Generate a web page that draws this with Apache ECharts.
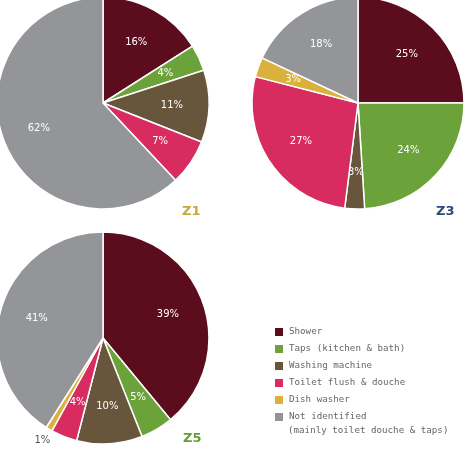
<!DOCTYPE html>
<html>
<head>
<meta charset="utf-8">
<script src="https://cdn.jsdelivr.net/npm/echarts@6/dist/echarts.min.js"></script>
<style>
  html, body { margin: 0; padding: 0; background: #fff; }
  #container { width: 465px; height: 451px; }
</style>
</head>
<body>
<div id="container"></div>
<script>
var myChart = echarts.init(document.getElementById('container'));

var categories = ['Shower', 'Taps (kitchen & bath)', 'Washing machine', 'Toilet flush & douche', 'Dish washer', 'Not identified'];
var colors = ['#5c0d1d', '#6ba23a', '#67563b', '#d82b60', '#d9b13c', '#939598'];
var z1Values = [16, 4, 11, 7, 0, 62];
var z3Values = [25, 24, 3, 27, 3, 18];
var z5Values = [39, 5, 10, 4, 1, 41];
var legendNote = '(mainly toilet douche & taps)';

var zones = [
  { name: 'Z1', values: z1Values, center: [103, 103], labelPos: [182, 205], color: '#c9a733' },
  { name: 'Z3', values: z3Values, center: [358, 103], labelPos: [436, 205], color: '#2c4a7b' },
  { name: 'Z5', values: z5Values, center: [103, 338], labelPos: [183, 432], color: '#6a9b3a' }
];

// mode: 'slice' coloured slices, 'inner' labels inside, 'outer' labels for tiny slices
function buildData(values, mode) {
  var data = [];
  values.forEach(function(v, i) {
    if (v === 0) return;
    var item = { name: categories[i], value: v, itemStyle: { color: mode === 'slice' ? colors[i] : 'rgba(0,0,0,0)' } };
    if (mode === 'inner' && v <= 1) item.label = { show: false };
    if (mode === 'outer' && v > 1) item.label = { show: false };
    data.push(item);
  });
  return data;
}

function labelSeries(z, mode, radius, color) {
  return {
    name: z.name + ' ' + mode,
    type: 'pie',
    center: z.center,
    radius: radius,
    startAngle: 90,
    silent: true,
    itemStyle: { borderWidth: 0 },
    label: {
      show: true,
      position: 'inside',
      formatter: '{c}%',
      color: color,
      fontSize: 10,
      fontFamily: 'DejaVu Sans'
    },
    labelLine: { show: false },
    data: buildData(z.values, mode)
  };
}

var series = [];
zones.forEach(function(z) {
  series.push({
    name: z.name,
    type: 'pie',
    center: z.center,
    radius: [0, 106],
    startAngle: 90,
    silent: true,
    label: { show: false },
    labelLine: { show: false },
    itemStyle: { borderColor: '#fff', borderWidth: 1.5 },
    data: buildData(z.values, 'slice')
  });
});
zones.forEach(function(z) {
  series.push(labelSeries(z, 'inner', [26, 106], '#fff'));
  series.push(labelSeries(z, 'outer', [110, 122], '#555'));
});

var graphics = zones.map(function(z) {
  return {
    type: 'text',
    left: z.labelPos[0],
    top: z.labelPos[1],
    style: { text: z.name, fill: z.color, font: 'bold 13px DejaVu Sans' }
  };
});
graphics.push({
  type: 'text',
  left: 288,
  top: 426,
  style: { text: legendNote, fill: '#666', font: '9.2px DejaVu Sans Mono' }
});

var option = {
  backgroundColor: '#fff',
  animation: false,
  legend: {
    orient: 'vertical',
    left: 273,
    top: 326,
    height: 120,
    padding: 0,
    itemWidth: 10,
    itemHeight: 10,
    itemGap: 5,
    icon: 'rect',
    selectedMode: false,
    data: categories,
    textStyle: { color: '#666', fontSize: 9.2, fontFamily: 'DejaVu Sans Mono', lineHeight: 10 }
  },
  graphic: graphics,
  series: series
};

myChart.setOption(option);
</script>
</body>
</html>
